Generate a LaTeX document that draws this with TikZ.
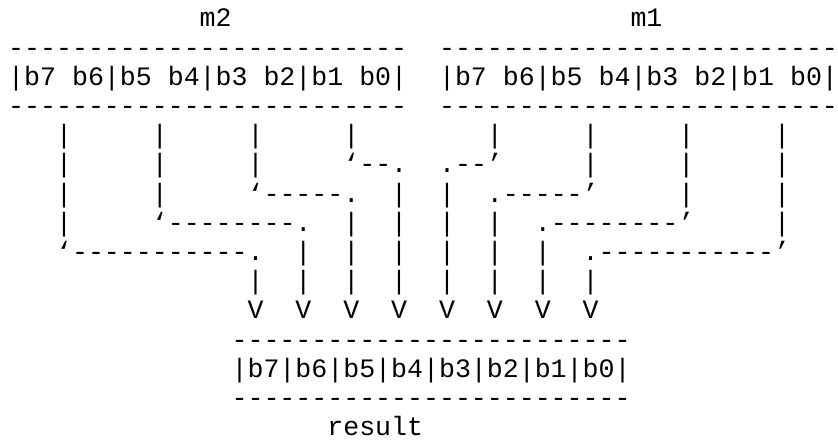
\documentclass[tikz,border=0pt]{standalone}
\usepackage{fontspec}
\setmonofont{Liberation Mono}

\tikzset{
  ascii/.style={font=\ttfamily\fontsize{20pt}{22pt}\selectfont, inner sep=0pt, anchor=mid west},
}

\begin{document}
\begin{tikzpicture}[x=12pt, y=-21.975pt]
	\useasboundingbox (-0.5,-0.8191) rectangle (52.02,14.266);

	% the two source registers
	\foreach \reg/\xs in {m2/0, m1/27} {
		\node [ascii] (top-\reg) at (\xs,1) {-------------------------};
		\node [ascii] (bits-\reg) at (\xs,2) {|b7~b6|b5~b4|b3~b2|b1~b0|};
		\node [ascii] (bot-\reg) at (\xs,3) {-------------------------};
	}
	\node [ascii] (lbl-m2) at (12,0) {m2};
	\node [ascii] (lbl-m1) at (39,0) {m1};

	% interleaving wires
	\node [ascii] (wire1) at (3,4) {|~~~~~|~~~~~|~~~~~|~~~~~~~~|~~~~~|~~~~~|~~~~~|};
	\node [ascii] (wire2) at (3,5) {|~~~~~|~~~~~|~~~~~‘--.~~.--’~~~~~|~~~~~|~~~~~|};
	\node [ascii] (wire3) at (3,6) {|~~~~~|~~~~~‘-----.~~|~~|~~.-----’~~~~~|~~~~~|};
	\node [ascii] (wire4) at (3,7) {|~~~~~‘--------.~~|~~|~~|~~|~~.--------’~~~~~|};
	\node [ascii] (wire5) at (3,8) {‘-----------.~~|~~|~~|~~|~~|~~|~~.-----------’};
	\node [ascii] (wire6) at (15,9) {|~~|~~|~~|~~|~~|~~|~~|};
	\node [ascii] (heads) at (15,10) {V~~V~~V~~V~~V~~V~~V~~V};

	% result register
	\node [ascii] (top-res) at (14,11) {-------------------------};
	\node [ascii] (bits-res) at (14,12) {|b7|b6|b5|b4|b3|b2|b1|b0|};
	\node [ascii] (bot-res) at (14,13) {-------------------------};
	\node [ascii] (lbl-res) at (20,14) {result};

\end{tikzpicture}
\end{document}
